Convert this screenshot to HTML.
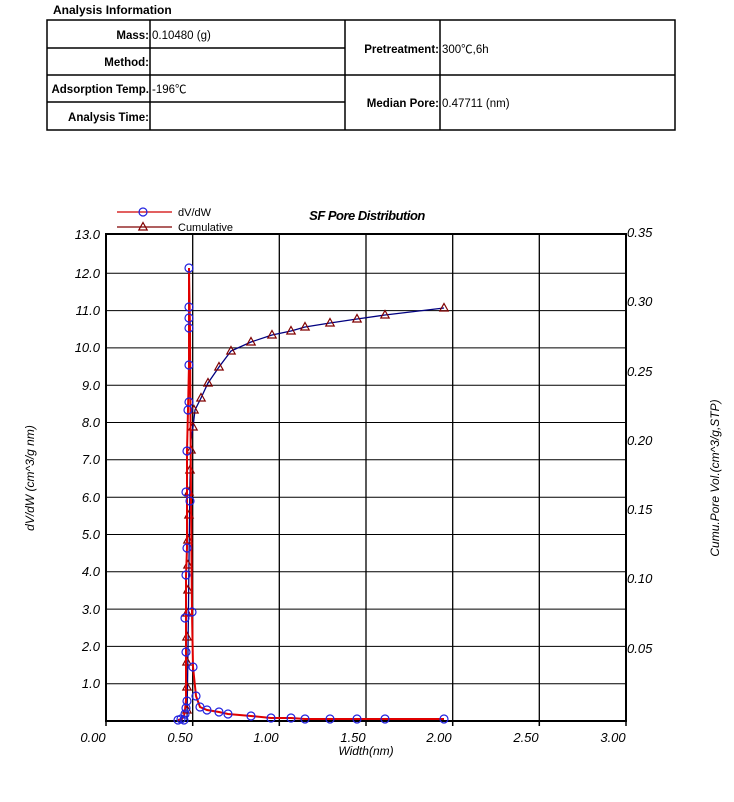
<!DOCTYPE html>
<html><head><meta charset="utf-8"><style>
html,body{margin:0;padding:0;background:#fff;}
body{width:734px;height:802px;overflow:hidden;position:relative;font-family:"Liberation Sans","Noto Sans CJK SC",sans-serif;}
</style></head><body>
<svg width="734" height="802" viewBox="0 0 734 802" xmlns="http://www.w3.org/2000/svg" style="position:absolute;left:0;top:0" font-family="Liberation Sans, Noto Sans CJK SC, sans-serif">
<defs>
<symbol id="c" viewBox="-5 -5 10 10" overflow="visible"><circle r="4" fill="none" stroke="#2020e0" stroke-width="1.2"/></symbol>
<symbol id="t" viewBox="-5 -5 10 10" overflow="visible"><path d="M0,-4.5 L4.2,3 L-4.2,3 Z" fill="none" stroke="#800000" stroke-width="1.2"/></symbol>
</defs>
<!-- table -->
<text x="53" y="14" font-size="12" font-weight="bold">Analysis Information</text>
<g stroke="#000" stroke-width="1.5" fill="none">
<rect x="47" y="20" width="628" height="110"/>
<line x1="150" y1="20" x2="150" y2="130"/>
<line x1="345" y1="20" x2="345" y2="130"/>
<line x1="440" y1="20" x2="440" y2="130"/>
<line x1="47" y1="75" x2="675" y2="75"/>
<line x1="47" y1="48" x2="345" y2="48"/>
<line x1="47" y1="102" x2="345" y2="102"/>
</g>
<g font-size="11.5" font-weight="bold" text-anchor="end">
<text x="149" y="39">Mass:</text>
<text x="149" y="66">Method:</text>
<text x="149" y="93">Adsorption Temp.</text>
<text x="149" y="121">Analysis Time:</text>
<text x="439" y="53">Pretreatment:</text>
<text x="439" y="107">Median Pore:</text>
</g>
<g font-size="11.5">
<text x="152" y="39">0.10480 (g)</text>
<text x="152" y="93">-196℃</text>
<text x="442" y="53">300℃,6h</text>
<text x="442" y="107">0.47711 (nm)</text>
</g>
<!-- grid -->
<g stroke="#000" stroke-width="1.3">
<line x1="192.7" y1="234" x2="192.7" y2="721"/>
<line x1="279.3" y1="234" x2="279.3" y2="721"/>
<line x1="366" y1="234" x2="366" y2="721"/>
<line x1="452.7" y1="234" x2="452.7" y2="721"/>
<line x1="539.3" y1="234" x2="539.3" y2="721"/>
</g>
<g stroke="#000" stroke-width="1" id="hg">
<line x1="106" x2="626" y1="683.7" y2="683.7"/><line x1="106" x2="626" y1="646.4" y2="646.4"/>
<line x1="106" x2="626" y1="609.1" y2="609.1"/><line x1="106" x2="626" y1="571.8" y2="571.8"/>
<line x1="106" x2="626" y1="534.5" y2="534.5"/><line x1="106" x2="626" y1="497.2" y2="497.2"/>
<line x1="106" x2="626" y1="459.8" y2="459.8"/><line x1="106" x2="626" y1="422.5" y2="422.5"/>
<line x1="106" x2="626" y1="385.2" y2="385.2"/><line x1="106" x2="626" y1="347.9" y2="347.9"/>
<line x1="106" x2="626" y1="310.6" y2="310.6"/><line x1="106" x2="626" y1="273.3" y2="273.3"/>
</g>
<rect x="106" y="234" width="520" height="487" fill="none" stroke="#000" stroke-width="2"/>
<!-- ticks -->
<g stroke="#000" stroke-width="1.5">
<line x1="106" y1="721" x2="106" y2="726"/><line x1="192.7" y1="721" x2="192.7" y2="726"/><line x1="279.3" y1="721" x2="279.3" y2="726"/><line x1="366" y1="721" x2="366" y2="726"/><line x1="452.7" y1="721" x2="452.7" y2="726"/><line x1="539.3" y1="721" x2="539.3" y2="726"/><line x1="626" y1="721" x2="626" y2="726"/>
</g>
<!-- left labels -->
<g font-size="13" font-style="italic" text-anchor="end">
<text x="100" y="239">13.0</text><text x="100" y="278">12.0</text><text x="100" y="315">11.0</text><text x="100" y="352">10.0</text>
<text x="100" y="390">9.0</text><text x="100" y="427">8.0</text><text x="100" y="464">7.0</text><text x="100" y="502">6.0</text>
<text x="100" y="539">5.0</text><text x="100" y="576">4.0</text><text x="100" y="614">3.0</text><text x="100" y="651">2.0</text><text x="100" y="688">1.0</text>
</g>
<g font-size="13" font-style="italic">
<text x="627" y="237">0.35</text><text x="627" y="306">0.30</text><text x="627" y="376">0.25</text><text x="627" y="445">0.20</text>
<text x="627" y="514">0.15</text><text x="627" y="583">0.10</text><text x="627" y="653">0.05</text>
</g>
<g font-size="13" font-style="italic" text-anchor="middle">
<text x="93" y="742">0.00</text><text x="180" y="742">0.50</text><text x="266" y="742">1.00</text><text x="353" y="742">1.50</text><text x="439" y="742">2.00</text><text x="526" y="742">2.50</text><text x="613" y="742">3.00</text>
<text x="366" y="755" font-size="12">Width(nm)</text>
<text x="367" y="220" font-size="13" font-weight="bold" letter-spacing="-0.5">SF Pore Distribution</text>
<text transform="translate(34,478) rotate(-90)" font-size="12">dV/dW (cm^3/g nm)</text>
<text transform="translate(719,478) rotate(-90)" font-size="12">Cumu.Pore Vol.(cm^3/g,STP)</text>
</g>
<!-- legend -->
<line x1="117" y1="212" x2="172" y2="212" stroke="#d00000" stroke-width="1.3"/>
<use href="#c" x="138" y="207" width="10" height="10"/>
<text x="178" y="216" font-size="11">dV/dW</text>
<line x1="117" y1="227" x2="172" y2="227" stroke="#800000" stroke-width="1.3"/>
<use href="#t" x="138" y="222" width="10" height="10"/>
<text x="178" y="231" font-size="11">Cumulative</text>
<!-- cumulative -->
<polyline fill="none" stroke="#000080" stroke-width="1.3" points="187,720 188,650 189,560 190,480 191,440 193,427 195,410 201,398 208,383 219,367 231,351 251,342 272,335 291,331 305,327 330,323 357,319 385,315 444,308"/>
<g>
<use href="#t" x="182" y="705" width="10" height="10"/><use href="#t" x="182" y="682" width="10" height="10"/><use href="#t" x="182" y="657" width="10" height="10"/>
<use href="#t" x="182" y="632" width="10" height="10"/><use href="#t" x="182" y="608" width="10" height="10"/><use href="#t" x="183" y="585" width="10" height="10"/>
<use href="#t" x="183" y="560" width="10" height="10"/><use href="#t" x="183" y="535" width="10" height="10"/><use href="#t" x="184" y="510" width="10" height="10"/>
<use href="#t" x="184" y="487" width="10" height="10"/><use href="#t" x="185" y="465" width="10" height="10"/><use href="#t" x="186" y="445" width="10" height="10"/>
<use href="#t" x="188" y="422" width="10" height="10"/><use href="#t" x="189" y="405" width="10" height="10"/><use href="#t" x="196" y="393" width="10" height="10"/>
<use href="#t" x="203" y="378" width="10" height="10"/><use href="#t" x="214" y="362" width="10" height="10"/><use href="#t" x="226" y="346" width="10" height="10"/>
<use href="#t" x="246" y="337" width="10" height="10"/><use href="#t" x="267" y="330" width="10" height="10"/><use href="#t" x="286" y="326" width="10" height="10"/>
<use href="#t" x="300" y="322" width="10" height="10"/><use href="#t" x="325" y="318" width="10" height="10"/><use href="#t" x="352" y="314" width="10" height="10"/>
<use href="#t" x="380" y="310" width="10" height="10"/><use href="#t" x="439" y="303" width="10" height="10"/>
</g>
<!-- dV/dW -->
<polyline fill="none" stroke="#e00000" stroke-width="2" points="178,720 182,719 184,716 185,710 186,700 186,652 186,617 186,576 187,548 187,492 187,451 188,410 189,365 189,268 190,330 191,500 192,612 193,667 196,696 200,707 207,710 219,712 228,714 251,716 271,718 291,718 305,719 330,719 357,719 385,719 444,719"/>
<g>
<use href="#c" x="173" y="715" width="10" height="10"/><use href="#c" x="176" y="714" width="10" height="10"/><use href="#c" x="179" y="715" width="10" height="10"/>
<use href="#c" x="180" y="709" width="10" height="10"/><use href="#c" x="181" y="703" width="10" height="10"/><use href="#c" x="182" y="696" width="10" height="10"/>
<use href="#c" x="181" y="647" width="10" height="10"/><use href="#c" x="180" y="613" width="10" height="10"/><use href="#c" x="181" y="570" width="10" height="10"/>
<use href="#c" x="182" y="543" width="10" height="10"/><use href="#c" x="181" y="487" width="10" height="10"/><use href="#c" x="185" y="496" width="10" height="10"/>
<use href="#c" x="182" y="446" width="10" height="10"/><use href="#c" x="183" y="405" width="10" height="10"/><use href="#c" x="184" y="397" width="10" height="10"/>
<use href="#c" x="184" y="360" width="10" height="10"/><use href="#c" x="184" y="323" width="10" height="10"/><use href="#c" x="184" y="313" width="10" height="10"/>
<use href="#c" x="184" y="302" width="10" height="10"/><use href="#c" x="184" y="263" width="10" height="10"/>
<use href="#c" x="187" y="607" width="10" height="10"/><use href="#c" x="188" y="662" width="10" height="10"/><use href="#c" x="191" y="691" width="10" height="10"/>
<use href="#c" x="195" y="702" width="10" height="10"/><use href="#c" x="202" y="705" width="10" height="10"/><use href="#c" x="214" y="707" width="10" height="10"/>
<use href="#c" x="223" y="709" width="10" height="10"/><use href="#c" x="246" y="711" width="10" height="10"/><use href="#c" x="266" y="713" width="10" height="10"/>
<use href="#c" x="286" y="713" width="10" height="10"/><use href="#c" x="300" y="714" width="10" height="10"/><use href="#c" x="325" y="714" width="10" height="10"/>
<use href="#c" x="352" y="714" width="10" height="10"/><use href="#c" x="380" y="714" width="10" height="10"/><use href="#c" x="439" y="714" width="10" height="10"/>
</g>
</svg>
</body></html>
